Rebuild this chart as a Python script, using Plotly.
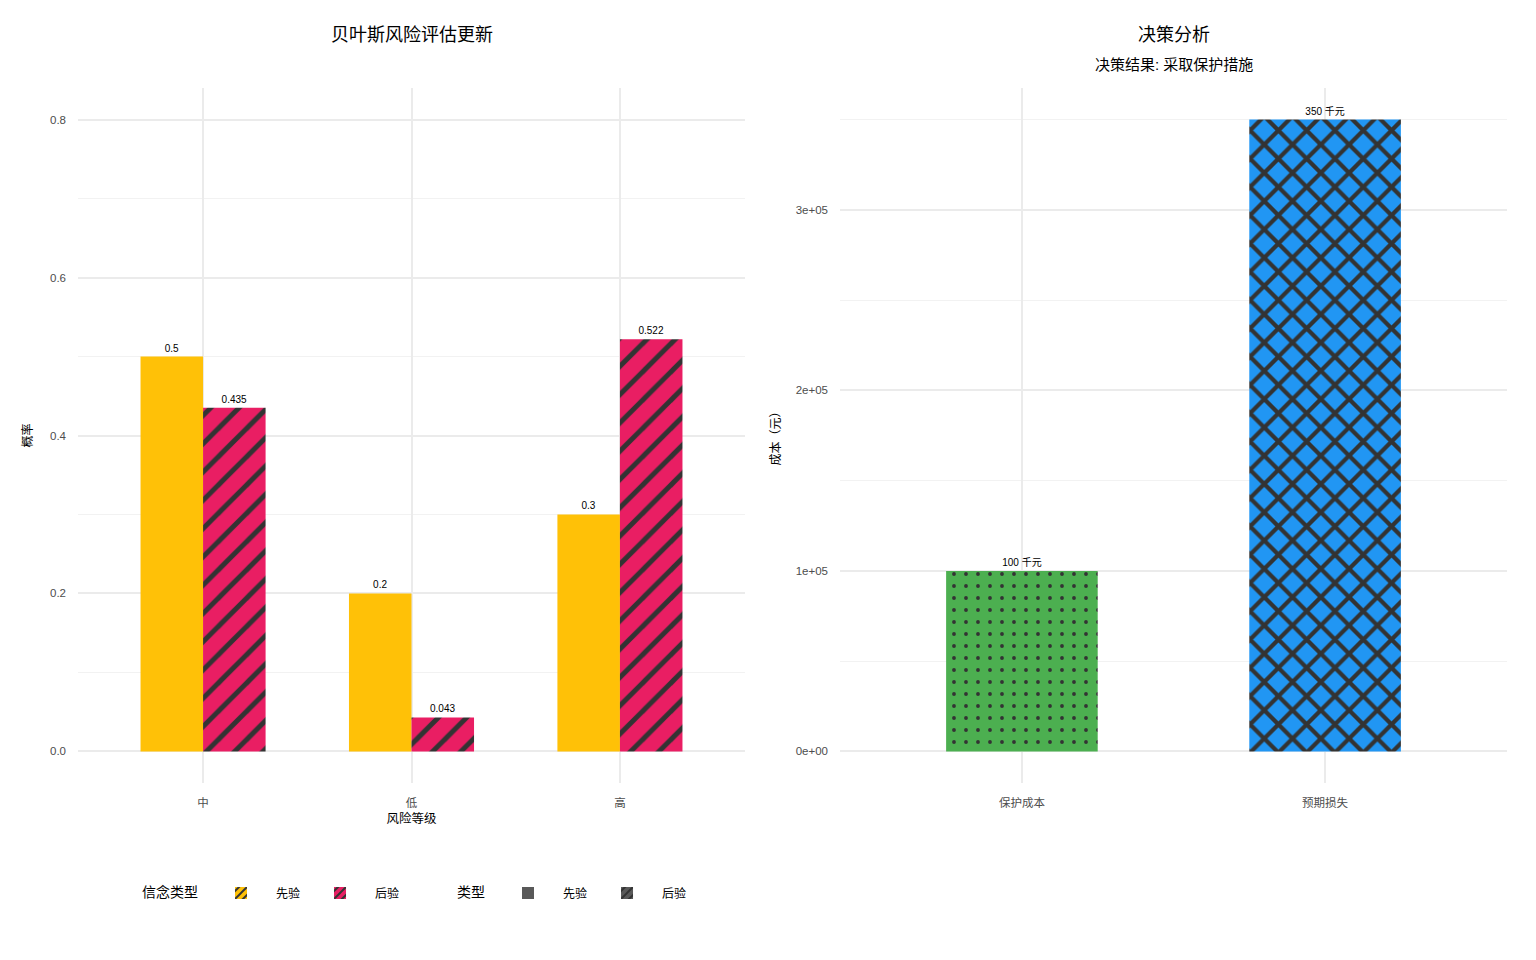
import plotly.graph_objects as go

FONT = "Liberation Sans, Noto Sans CJK SC, sans-serif"

# data
risk_levels = ["中", "低", "高"]
prior_prob = [0.5, 0.2, 0.3]
posterior_prob = [0.435, 0.043, 0.522]

cost_items = ["保护成本", "预期损失"]
cost_values = [100000, 350000]
cost_ticks = [0, 100000, 200000, 300000]
cost_ticktext = ["0e+00", "1e+05", "2e+05", "3e+05"]

YELLOW = "#FFC107"
PINK = "#E91E63"
GREEN = "#4CAF50"
BLUE = "#2196F3"
GREY = "#595959"
HATCH = "#333333"

GRID = "#EBEBEB"
MINOR = "#F2F2F2"

OFF = 8  # page body margin


def px(x):
    return (x - OFF) / 1536


def py(y):
    return 1 - (y - OFF) / 960


LEFT_DOM = [px(78), px(745)]
RIGHT_DOM = [px(840), px(1507)]
Y_DOM = [py(783), py(88)]

fig = go.Figure()

# left panel: prior vs posterior
fig.add_trace(go.Bar(
    x=risk_levels, y=prior_prob, name="先验",
    marker=dict(color=YELLOW, line=dict(width=0)),
    text=[f"{v:g}" for v in prior_prob], textposition="outside",
    showlegend=False, xaxis="x", yaxis="y", offsetgroup="a",
))
fig.add_trace(go.Bar(
    x=risk_levels, y=posterior_prob, name="后验",
    marker=dict(color=PINK, line=dict(width=0),
                pattern=dict(shape="/", fgcolor=HATCH, fgopacity=1, size=20, solidity=0.25)),
    text=[f"{v:g}" for v in posterior_prob], textposition="outside",
    showlegend=False, xaxis="x", yaxis="y", offsetgroup="b",
))

# right panel: decision costs
fig.add_trace(go.Bar(
    x=cost_items[:1], y=cost_values[:1],
    marker=dict(color=GREEN, line=dict(width=0),
                pattern=dict(shape=".", fgcolor=HATCH, fgopacity=1, size=12, solidity=0.08)),
    text=[f"{v // 1000} 千元" for v in cost_values[:1]], textposition="outside",
    showlegend=False, xaxis="x2", yaxis="y2", width=0.5,
))
fig.add_trace(go.Bar(
    x=cost_items[1:], y=cost_values[1:],
    marker=dict(color=BLUE, line=dict(width=0),
                pattern=dict(shape="x", fgcolor=HATCH, fgopacity=1, size=20, solidity=0.38)),
    text=[f"{v // 1000} 千元" for v in cost_values[1:]], textposition="outside",
    showlegend=False, xaxis="x2", yaxis="y2", width=0.5,
))

# legend keys
legend_keys = [
    ("先验", YELLOW, "/", "legend"),
    ("后验", PINK, "/", "legend"),
    ("先验", GREY, "", "legend2"),
    ("后验", GREY, "/", "legend2"),
]
for name, color, shape, leg in legend_keys:
    fig.add_trace(go.Bar(
        x=[None], y=[None], name=name, legend=leg, showlegend=True,
        marker=dict(color=color, line=dict(width=0),
                    pattern=dict(shape=shape, fgcolor=HATCH, fgopacity=1, size=7, solidity=0.35)),
        xaxis="x", yaxis="y",
    ))

fig.update_traces(textfont=dict(size=10, color="black", family=FONT),
                  cliponaxis=False, selector=dict(type="bar"))

axis_common = dict(
    showline=False, zeroline=False, ticks="", ticklabelstandoff=11,
    tickfont=dict(size=11.5, color="#4D4D4D", family=FONT),
    gridcolor=GRID, gridwidth=2,
)

fig.update_layout(
    width=1536, height=960,
    margin=dict(l=0, r=0, t=0, b=0),
    paper_bgcolor="white", plot_bgcolor="white",
    font=dict(family=FONT, color="black"),
    showlegend=True,
    barmode="group", bargap=0.4, bargroupgap=0,
    xaxis=dict(domain=LEFT_DOM, anchor="y", range=[-0.6, 2.6],
               title=dict(text="风险等级", font=dict(size=12.5), standoff=6),
               **axis_common),
    yaxis=dict(domain=Y_DOM, anchor="x", range=[-0.04, 0.84],
               tickvals=[0, 0.2, 0.4, 0.6, 0.8], ticktext=["0.0", "0.2", "0.4", "0.6", "0.8"],
               minor=dict(dtick=0.1, tick0=0, showgrid=True, gridcolor=MINOR, gridwidth=1),
               title=dict(text="概率", font=dict(size=12), standoff=14),
               **axis_common),
    xaxis2=dict(domain=RIGHT_DOM, anchor="y2", range=[-0.6, 1.6],
                **axis_common),
    yaxis2=dict(domain=Y_DOM, anchor="x2", range=[-17500, 367500],
                tickvals=cost_ticks, ticktext=cost_ticktext,
                minor=dict(dtick=50000, tick0=0, showgrid=True, gridcolor=MINOR, gridwidth=1),
                title=dict(text="成本（元）", font=dict(size=12), standoff=12),
                **axis_common),
    legend=dict(orientation="h", x=px(140), y=py(893), yanchor="middle", xanchor="left",
                title=dict(text="信念类型", font=dict(size=14), side="left"),
                font=dict(size=12), itemwidth=60),
    legend2=dict(orientation="h", x=px(455), y=py(893), yanchor="middle", xanchor="left",
                 title=dict(text="类型", font=dict(size=14), side="left"),
                 font=dict(size=12), itemwidth=60),
    annotations=[
        dict(text="贝叶斯风险评估更新", x=sum(LEFT_DOM) / 2, y=py(35),
             xanchor="center", yanchor="middle",
             xref="paper", yref="paper", showarrow=False, font=dict(size=18)),
        dict(text="决策分析", x=sum(RIGHT_DOM) / 2, y=py(35),
             xanchor="center", yanchor="middle",
             xref="paper", yref="paper", showarrow=False, font=dict(size=18)),
        dict(text="决策结果: 采取保护措施", x=sum(RIGHT_DOM) / 2, y=py(64),
             xanchor="center", yanchor="middle",
             xref="paper", yref="paper", showarrow=False, font=dict(size=15)),
    ],
)

fig.write_html("out.html")
